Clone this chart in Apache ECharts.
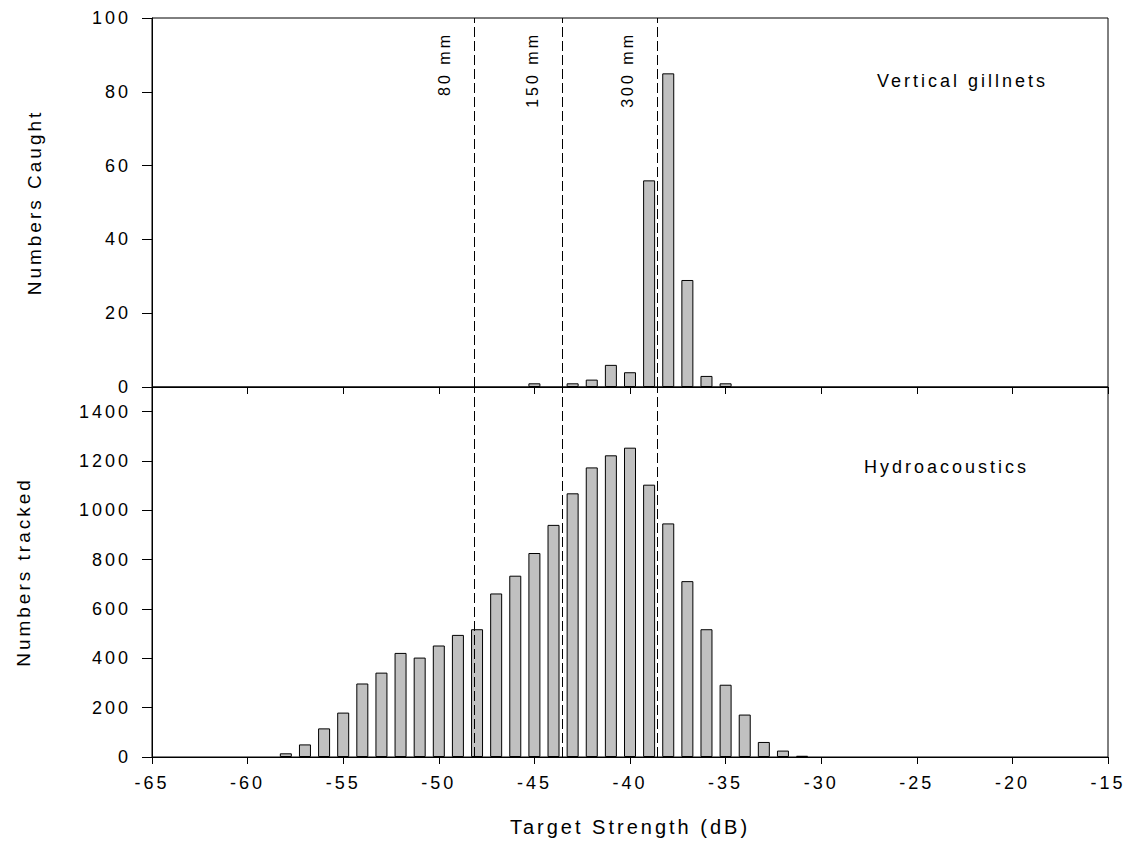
<!DOCTYPE html>
<html>
<head>
<meta charset="utf-8">
<script src="https://cdn.jsdelivr.net/npm/echarts@6/dist/echarts.min.js"></script>
<style>
html, body { margin: 0; padding: 0; background: #fff; }
#main { width: 1129px; height: 849px; }
#main svg text { letter-spacing: 3px; }
</style>
</head>
<body>
<div id="main"></div>
<script>
// vertical gillnet catch per 1 dB bin
const gillnetBins = [-45, -43, -42, -41, -40, -39, -38, -37, -36, -35];
const gillnetCounts = [1, 1, 2, 6, 4, 56, 85, 29, 3, 1];

// hydroacoustic tracked targets per 1 dB bin
const acousticBins = [-58, -57, -56, -55, -54, -53, -52, -51, -50, -49, -48, -47, -46, -45,
	-44, -43, -42, -41, -40, -39, -38, -37, -36, -35, -34, -33, -32, -31];
const acousticCounts = [15, 51, 116, 180, 298, 342, 422, 403, 452, 495, 518, 663, 735, 827,
	941, 1069, 1174, 1223, 1254, 1104, 947, 713, 518, 293, 172, 61, 26, 5];

// mesh size reference lines
const meshTS = [-48.15, -43.55, -38.55];
const meshLabels = ['80 mm', '150 mm', '300 mm'];

const xRange = [-65, -15, 5];
const yTopRange = [0, 100, 20];
const yBottomRange = [0, 1500, 200];

const font = 'Liberation Sans, Arial, sans-serif';

let chart = echarts.init(document.getElementById('main'), null, { renderer: 'svg' });

function pairs(xs, ys) {
	return xs.map(function (x, i) { return [x, ys[i]]; });
}

function meshLines(withLabels) {
	return {
		silent: true,
		symbol: ['none', 'none'],
		animation: false,
		lineStyle: { type: [10, 4], color: '#000', width: 1 },
		label: {
			show: withLabels,
			position: 'insideEndTop',
			distance: [14, 22],
			color: '#000',
			fontSize: 16,
			fontFamily: font
		},
		data: meshTS.map(function (v, i) {
			return { xAxis: v, label: { formatter: meshLabels[i] } };
		})
	};
}

const barStyle = { color: '#c0c0c0', borderColor: '#000', borderWidth: 1 };

function xAxisCfg(grid, labels) {
	return {
		type: 'value',
		gridIndex: grid,
		min: xRange[0],
		max: xRange[1],
		interval: xRange[2],
		splitLine: { show: false },
		axisLine: { onZero: false, lineStyle: { color: '#000', width: 1 } },
		axisTick: { show: true, inside: false, length: 7, lineStyle: { color: '#000' } },
		axisLabel: { show: labels, margin: 17, color: '#000', fontSize: 18, fontFamily: font,
			formatter: function (v) { return String(v); } },
		name: labels ? 'Target Strength (dB)' : '',
		nameLocation: 'middle',
		nameGap: 60,
		nameTextStyle: { color: '#000', fontSize: 20, fontFamily: font }
	};
}

function yAxisCfg(grid, range, name, gap) {
	return {
		type: 'value',
		gridIndex: grid,
		min: range[0],
		max: range[1],
		interval: range[2],
		splitLine: { show: false },
		axisLine: { lineStyle: { color: '#000', width: 1 } },
		axisTick: { show: true, inside: false, length: 10, lineStyle: { color: '#000' } },
		axisLabel: { showMaxLabel: range[1] % range[2] === 0, margin: 21, color: '#000', fontSize: 18, fontFamily: font,
			formatter: function (v) { return String(v); } },
		name: name,
		nameLocation: 'middle',
		nameGap: gap,
		nameRotate: 90,
		nameTextStyle: { color: '#000', fontSize: 19, fontFamily: font }
	};
}

const option = {
	backgroundColor: '#fff',
	animation: false,
	title: [
		{ text: 'Vertical gillnets', left: 872, top: 67,
			textStyle: { color: '#000', fontSize: 18, fontWeight: 'normal', fontFamily: font } },
		{ text: 'Hydroacoustics', left: 859, top: 453,
			textStyle: { color: '#000', fontSize: 18, fontWeight: 'normal', fontFamily: font } }
	],
	grid: [
		{ left: 152, right: 21, top: 18, height: 369, show: true, borderColor: '#000', borderWidth: 1 },
		{ left: 152, right: 21, top: 387, height: 370, show: true, borderColor: '#000', borderWidth: 1 }
	],
	xAxis: [xAxisCfg(0, false), xAxisCfg(1, true)],
	yAxis: [
		yAxisCfg(0, yTopRange, 'Numbers Caught', 108),
		yAxisCfg(1, yBottomRange, 'Numbers tracked', 119)
	],
	series: [
		{
			type: 'bar',
			xAxisIndex: 0,
			yAxisIndex: 0,
			barWidth: 12,
			itemStyle: barStyle,
			data: pairs(gillnetBins, gillnetCounts),
			markLine: meshLines(true)
		},
		{
			type: 'bar',
			xAxisIndex: 1,
			yAxisIndex: 1,
			barWidth: 12,
			itemStyle: barStyle,
			data: pairs(acousticBins, acousticCounts),
			markLine: meshLines(false)
		}
	]
};

chart.setOption(option);
</script>
</body>
</html>
